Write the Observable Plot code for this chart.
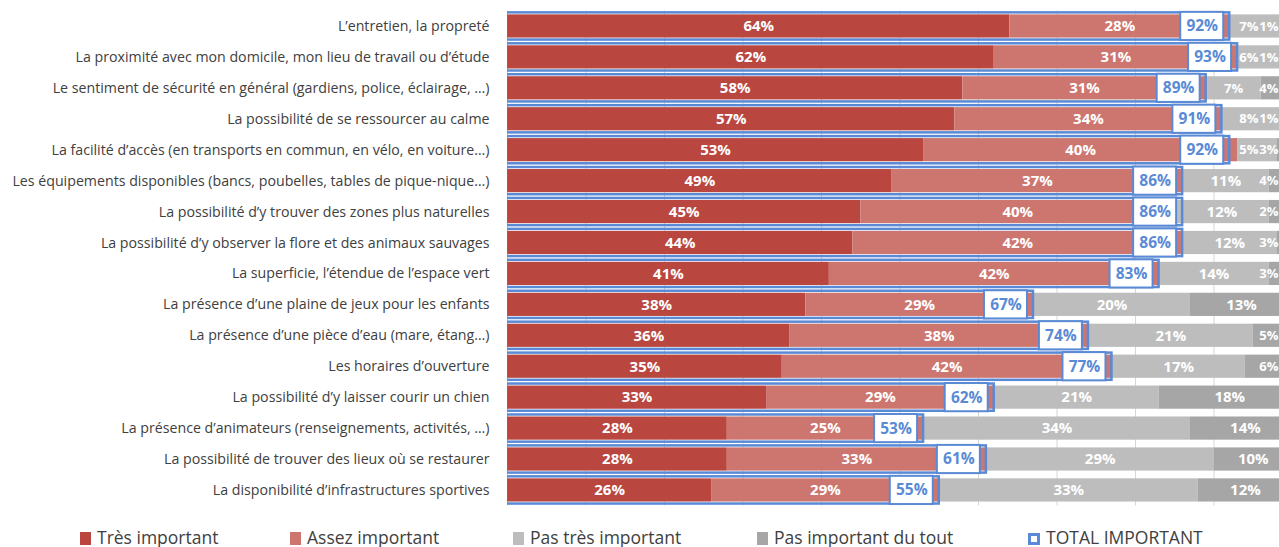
<!DOCTYPE html>
<html>
<head>
<meta charset="utf-8">
<script src="https://cdn.jsdelivr.net/npm/d3@7"></script>
<script src="https://cdn.jsdelivr.net/npm/@observablehq/plot@0.6"></script>
<style>
  body { margin: 0; background: #fff; font-family: "Open Sans", sans-serif; overflow: hidden; }
  #chart svg { display: block; }
  #legend { position: relative; height: 20px; margin-top: 15px; font-size: 17.5px; color: #404040; line-height: 20px; }
  .item { position: absolute; top: 0; white-space: nowrap; }
  .sw { display: inline-block; width: 11px; height: 13px; margin-right: 6px; vertical-align: -1px; box-sizing: border-box; }
</style>
</head>
<body>
<div id="chart"></div>
<div id="legend"></div>
<script>
const labels = [
  "L’entretien, la propreté",
  "La proximité avec mon domicile, mon lieu de travail ou d’étude",
  "Le sentiment de sécurité en général (gardiens, police, éclairage, …)",
  "La possibilité de se ressourcer au calme",
  "La facilité d’accès (en transports en commun, en vélo, en voiture…)",
  "Les équipements disponibles (bancs, poubelles, tables de pique-nique…)",
  "La possibilité d’y trouver des zones plus naturelles",
  "La possibilité d’y observer la flore et des animaux sauvages",
  "La superficie, l’étendue de l’espace vert",
  "La présence d’une plaine de jeux pour les enfants",
  "La présence d’une pièce d’eau (mare, étang…)",
  "Les horaires d’ouverture",
  "La possibilité d’y laisser courir un chien",
  "La présence d’animateurs (renseignements, activités, …)",
  "La possibilité de trouver des lieux où se restaurer",
  "La disponibilité d’infrastructures sportives"
];
const tresImportant   = [64,62,58,57,53,49,45,44,41,38,36,35,33,28,28,26];
const assezImportant  = [28,31,31,34,40,37,40,42,42,29,38,42,29,25,33,29];
const pasTresImportant= [7,6,7,8,5,11,12,12,14,20,21,17,21,34,29,33];
const pasDuTout       = [1,1,4,1,3,4,2,3,3,13,5,6,18,14,10,12];
const totalImportant  = [92,93,89,91,92,86,86,86,83,67,74,77,62,53,61,55];
const categories = ["Très important","Assez important","Pas très important","Pas important du tout"];
const colors = ["#B9463F","#CD766F","#BDBDBD","#A6A6A6"];
const blue = "#5A8AD5";
const gridTicks = [0,10,20,30,40,50,60,70,80,90,100];

const xMax = 98.34;
const series = [tresImportant, assezImportant, pasTresImportant, pasDuTout];
const long = labels.flatMap((label, i) => categories.map((cat, k) => ({label, cat, value: series[k][i]})));
const totals = labels.map((label, i) => ({label, total: totalImportant[i]}));
// label positions: centre of each stacked segment
const labelPos = labels.flatMap((label, i) => {
  let acc = 0;
  return categories.map((cat, k) => {
    const v = series[k][i];
    const mid = acc + v / 2;
    acc += v;
    return {label, cat, k, value: v, mid};
  });
});
// labels whose segment centre falls near/after the visible right edge
const edgeLast = labelPos.filter(d => d.k === 3 && d.mid > xMax - 3);
const edgePrev = labelPos.filter(d => d.k === 2 && d.value < 10);
const inner = labelPos.filter(d => !edgeLast.includes(d) && !edgePrev.includes(d));

const chart = Plot.plot({
  width: 1279,
  height: 512,
  marginLeft: 507,
  marginRight: 0,
  marginTop: 10.5,
  marginBottom: 6.6,
  x: {domain: [0, xMax], axis: null},
  y: {domain: labels, paddingInner: 0.25, paddingOuter: 0.125, round: false, axis: null},
  color: {domain: categories, range: colors},
  style: {fontFamily: "Open Sans, sans-serif", background: "white"},
  marks: [
    Plot.gridX(gridTicks, {stroke: "#d6d6d6", strokeOpacity: 1, strokeWidth: 1}),
    Plot.barX(long, Plot.stackX({x: "value", y: "label", fill: "cat", clip: true})),
    Plot.barX(totals, {x1: 0, x2: "total", y: "label", fill: "none", stroke: blue, strokeWidth: 2.5, insetTop: -2, insetBottom: -2, insetLeft: -1, clip: true}),
    Plot.barX(totals, {x1: "total", x2: "total", y: "label", fill: "white", stroke: blue, strokeWidth: 2, insetLeft: -49, insetRight: 6, insetTop: -2.5, insetBottom: -2.5}),
    Plot.text(inner, {x: "mid", y: "label", text: d => d.value + "%", fill: "white", fontWeight: "bold", fontSize: 15}),
    Plot.text(edgePrev, {x: d => Math.min(d.mid, xMax - 3.9), y: "label", text: d => d.value + "%", fill: "white", fontWeight: "bold", fontSize: 13}),
    Plot.text(edgeLast, {x: xMax, y: "label", text: d => d.value + "%", textAnchor: "end", dx: -1, fill: "white", fontWeight: "bold", fontSize: 13}),
    Plot.text(totals, {x: "total", y: "label", text: d => d.total + "%", dx: -27.5, fill: blue, fontWeight: "bold", fontSize: 15.5}),
    Plot.axisY({tickSize: 0, tickPadding: 18, fontSize: 14.2, fill: "#404040", label: null})
  ]
});
document.getElementById("chart").appendChild(chart);

const legendItems = [
  {name: categories[0], left: 80, style: `background:${colors[0]}`},
  {name: categories[1], left: 290, style: `background:${colors[1]}`},
  {name: categories[2], left: 513, style: `background:${colors[2]}`},
  {name: categories[3], left: 757, style: `background:${colors[3]}`},
  {name: "TOTAL IMPORTANT", left: 1028, style: `border:3px solid ${blue};background:white;width:12px;height:12px`}
];
const legend = document.getElementById("legend");
for (const it of legendItems) {
  const div = document.createElement("div");
  div.className = "item";
  div.style.left = it.left + "px";
  div.innerHTML = `<span class="sw" style="${it.style}"></span>${it.name}`;
  legend.appendChild(div);
}
</script>
</body>
</html>
